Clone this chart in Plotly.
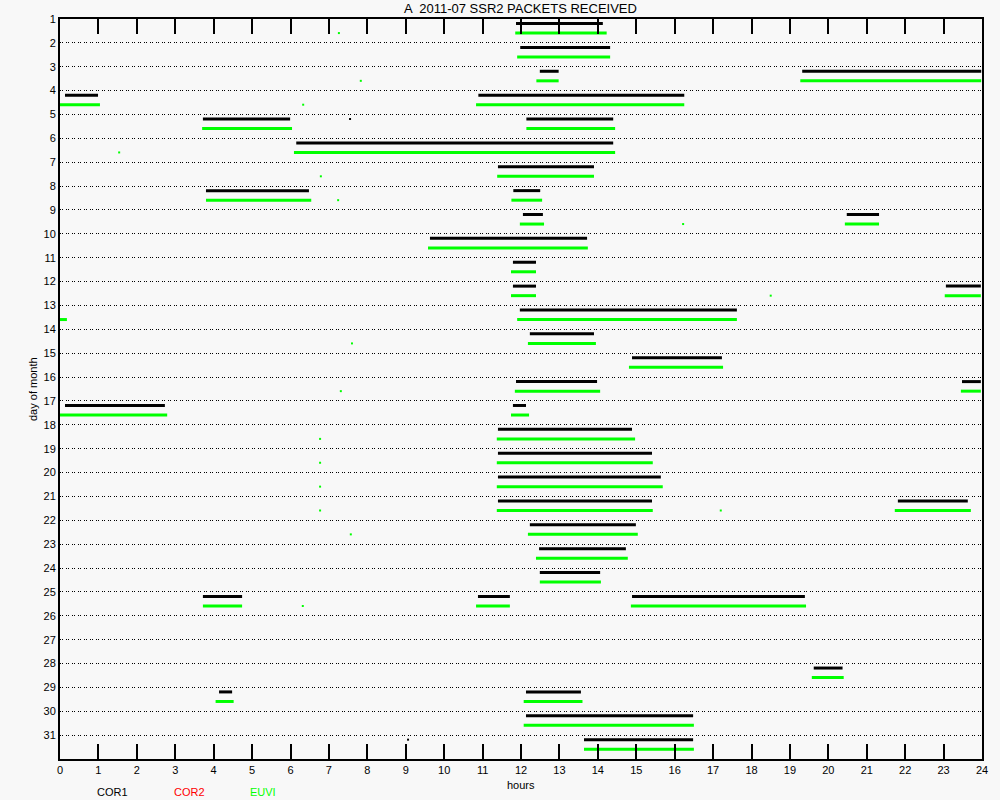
import plotly.graph_objects as go

title_text = "A  2011-07 SSR2 PACKETS RECEIVED"
days = list(range(1, 32))
hour_ticks = list(range(0, 25))

# COR1 (black) received intervals: day, start hour, end hour
cor1_days = [1, 2, 3, 3, 4, 4, 5, 5, 6, 7, 8, 8, 9, 9, 10, 11, 12, 12, 13, 14, 15, 16, 16,
             17, 17, 18, 19, 20, 21, 21, 22, 23, 24, 25, 25, 25, 28, 29, 29, 30, 31]
cor1_start = [11.87, 11.98, 12.49, 19.32, 0.13, 10.89, 3.72, 12.14, 6.15, 11.40, 3.80, 11.80,
              12.05, 20.48, 9.63, 11.79, 11.79, 23.06, 11.97, 12.23, 14.89, 11.87, 23.48,
              0.13, 11.79, 11.40, 11.40, 11.40, 11.40, 21.81, 12.23, 12.47, 12.49,
              3.72, 10.88, 14.89, 19.62, 4.14, 12.13, 12.13, 13.64]
cor1_end = [14.13, 14.32, 12.98, 23.98, 0.99, 16.25, 5.99, 14.40, 14.40, 13.90, 6.48, 12.50,
            12.57, 21.32, 13.72, 12.39, 12.39, 23.97, 17.62, 13.90, 17.23, 13.98, 23.97,
            2.73, 12.13, 14.89, 15.41, 15.64, 15.41, 23.63, 14.99, 14.73, 14.06,
            4.74, 11.71, 19.39, 20.37, 4.48, 13.56, 16.48, 16.48]

# EUVI (green) received intervals
euvi_days = [1, 2, 3, 3, 4, 4, 5, 5, 6, 7, 8, 8, 9, 9, 10, 11, 12, 12, 13, 13, 14, 15, 16, 16,
             17, 17, 18, 19, 20, 21, 21, 22, 23, 24, 25, 25, 25, 28, 29, 29, 30, 31]
euvi_start = [11.85, 11.90, 12.40, 19.27, 0.00, 10.83, 3.70, 12.14, 6.09, 11.38, 3.80, 11.75,
              11.97, 20.43, 9.58, 11.74, 11.74, 23.03, 0.00, 11.90, 12.18, 14.81, 11.84, 23.45,
              0.00, 11.74, 11.37, 11.37, 11.37, 11.37, 21.73, 12.18, 12.39, 12.49,
              3.72, 10.83, 14.86, 19.57, 4.05, 12.07, 12.07, 13.64]
euvi_end = [14.23, 14.32, 12.98, 23.98, 1.04, 16.25, 6.04, 14.45, 14.45, 13.90, 6.54, 12.55,
            12.60, 21.32, 13.74, 12.39, 12.39, 23.97, 0.18, 17.62, 13.95, 17.26, 14.06, 23.97,
            2.79, 12.21, 14.97, 15.43, 15.69, 15.43, 23.71, 15.04, 14.78, 14.08,
            4.74, 11.71, 19.42, 20.40, 4.52, 13.60, 16.50, 16.50]

# isolated single packets
euvi_dot_days = [1, 3, 4, 6, 7, 8, 9, 12, 14, 16, 18, 19, 20, 21, 21, 22, 25]
euvi_dot_hours = [7.26, 7.83, 6.33, 1.54, 6.79, 7.24, 16.22, 18.50, 7.60, 7.31, 6.77, 6.77,
                  6.77, 6.77, 17.20, 7.57, 6.32]
cor1_dot_days = [5, 31]
cor1_dot_hours = [7.55, 9.06]

legend_names = ["COR1", "COR2", "EUVI"]
legend_colors = ["#000000", "#ff0000", "#00ff00"]

COR1_OFF = 0.19
EUVI_OFF = 0.59


def segs(d, s, e, off):
    xs, ys = [], []
    for dd, a, b in zip(d, s, e):
        xs += [a, b, None]
        ys += [dd + off, dd + off, None]
    return xs, ys


fig = go.Figure()
ex, ey = segs(euvi_days, euvi_start, euvi_end, EUVI_OFF)
fig.add_trace(go.Scatter(x=ex, y=ey, mode="lines", line=dict(color="#00ff00", width=3),
                         hoverinfo="skip", showlegend=False))
cx, cy = segs(cor1_days, cor1_start, cor1_end, COR1_OFF)
fig.add_trace(go.Scatter(x=cx, y=cy, mode="lines", line=dict(color="#000000", width=3),
                         hoverinfo="skip", showlegend=False))
fig.add_trace(go.Scatter(x=euvi_dot_hours, y=[d + EUVI_OFF for d in euvi_dot_days], mode="markers",
                         marker=dict(color="#00ff00", size=2, symbol="square", line=dict(width=0)),
                         hoverinfo="skip", showlegend=False))
fig.add_trace(go.Scatter(x=cor1_dot_hours, y=[d + COR1_OFF for d in cor1_dot_days], mode="markers",
                         marker=dict(color="#000000", size=2, symbol="square", line=dict(width=0)),
                         hoverinfo="skip", showlegend=False))

W, H = 1000, 800
L, R, T, B = 60, 982, 19, 759


def px(xp):
    return (xp - L) / (R - L)


def py(yp):
    return (B - yp) / (B - T)


font = "Liberation Sans, DejaVu Sans, sans-serif"
ann = [
    dict(text=title_text, x=px(520), y=py(9), xref="paper", yref="paper", showarrow=False,
         font=dict(size=13, color="#000000", family=font), xanchor="center", yanchor="middle"),
    dict(text="hours", x=px(521), y=py(785), xref="paper", yref="paper", showarrow=False,
         font=dict(size=11, color="#000000", family=font), xanchor="center", yanchor="middle"),
    dict(text="day of month", x=px(33), y=py(389), xref="paper", yref="paper", showarrow=False,
         textangle=-90, font=dict(size=11, color="#000000", family=font),
         xanchor="center", yanchor="middle"),
]
for name, col, xp in zip(legend_names, legend_colors, [112, 189, 263]):
    ann.append(dict(text=name, x=px(xp), y=py(792), xref="paper", yref="paper", showarrow=False,
                    font=dict(size=11, color=col, family=font), xanchor="center", yanchor="middle"))

fig.update_layout(
    width=W, height=H,
    margin=dict(l=L, r=W - R, t=T, b=H - B),
    paper_bgcolor="#f8f8f8", plot_bgcolor="#f8f8f8",
    annotations=ann,
    xaxis=dict(range=[0, 24], tickmode="array", tickvals=hour_ticks,
               ticktext=[str(h) for h in hour_ticks],
               ticks="inside", ticklen=15, tickwidth=1.5, tickcolor="#000000",
               showline=True, linecolor="#000000", linewidth=2, mirror="ticks",
               showgrid=False, zeroline=False,
               tickfont=dict(size=11, color="#000000", family=font)),
    yaxis=dict(range=[32, 1], tickmode="array", tickvals=days, ticktext=[str(d) for d in days],
               ticks="", showline=True, linecolor="#000000", linewidth=2, mirror=True,
               showgrid=True, gridcolor="#000000", gridwidth=1, griddash="1px,1px,1px,3px",
               zeroline=False,
               tickfont=dict(size=11, color="#000000", family=font)),
)

fig.write_html("out.html", config={"displayModeBar": False},
               post_script="document.body.style.margin='0';document.body.style.overflow='hidden';")
